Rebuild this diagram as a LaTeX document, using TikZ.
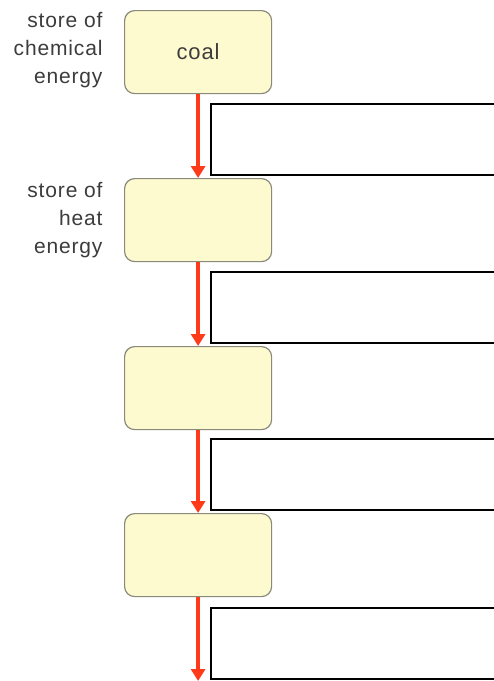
\documentclass[tikz,border=0pt]{standalone}
\usepackage{fontspec}
\setmainfont{Liberation Sans}[LetterSpace=4]
\usetikzlibrary{arrows.meta}
\definecolor{boxfill}{HTML}{FDFAD0}
\definecolor{boxdraw}{HTML}{8A8A7A}
\definecolor{arrowred}{HTML}{FF3A1A}
\definecolor{txt}{HTML}{3C3C3C}
\tikzset{
  storebox/.style={draw=boxdraw, line width=1.2pt, fill=boxfill, rounded corners=10pt,
    minimum width=147pt, minimum height=83pt, inner sep=0pt, anchor=north west,
    font=\fontsize{22}{27}\selectfont, text=txt},
  answerbox/.style={draw=black, line width=1.5pt, minimum width=300pt, minimum height=71pt,
    inner sep=0pt, anchor=north west},
  flow/.style={draw=arrowred, line width=3.6pt, -{Triangle[length=12pt,width=14pt]}},
  label/.style={align=right, anchor=east, text=txt, font=\fontsize{21}{28}\selectfont}
}
\begin{document}
\begin{tikzpicture}[x=1pt,y=-1pt]
\useasboundingbox (0,0) rectangle (494,681);
\begin{scope}
\clip (0,0) rectangle (494,681);
\node[answerbox] (r1) at (210,103) {};
\node[answerbox] (r2) at (210,271) {};
\node[answerbox] (r3) at (210,438) {};
\node[answerbox] (r4) at (210,607) {};
\end{scope}
\node[storebox] (b1) at (124,10) {coal};
\node[storebox] (b2) at (124,178) {};
\node[storebox] (b3) at (124,346) {};
\node[storebox] (b4) at (124,513) {};
\coordinate (e) at (197,681);
\draw[flow] (b1.south) -- (b2.north);
\draw[flow] (b2.south) -- (b3.north);
\draw[flow] (b3.south) -- (b4.north);
\draw[flow] (b4.south) -- (b4.south |- e);
\node[label] (l1) at (106,50) {store of\\chemical\\energy};
\node[label] (l2) at (106,220) {store of\\heat\\energy};
\end{tikzpicture}
\end{document}
